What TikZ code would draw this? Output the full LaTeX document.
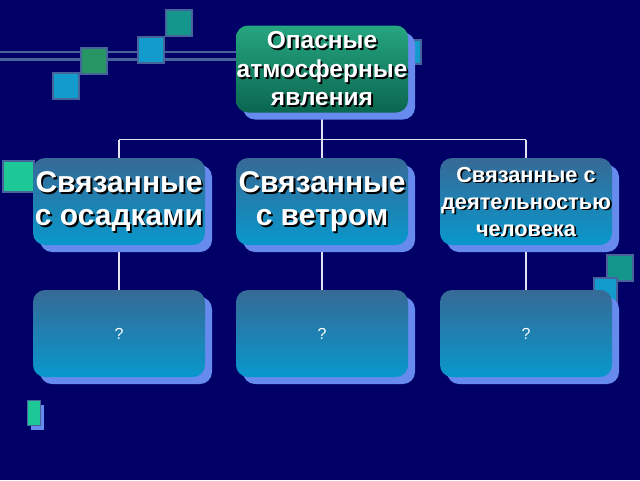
\documentclass[tikz,border=0pt]{standalone}
\usepackage{fontspec}
\setmainfont{Liberation Sans}
\usetikzlibrary{shadows}
\definecolor{navy}{RGB}{0,0,102}
\definecolor{shblue}{RGB}{102,138,238}
\definecolor{sqborder}{RGB}{70,100,155}
\definecolor{sqteal}{RGB}{20,150,140}
\definecolor{sqblue}{RGB}{20,155,205}
\definecolor{sqgreen}{RGB}{40,150,100}
\definecolor{sqmint}{RGB}{30,200,150}
\definecolor{boxtop}{RGB}{55,105,150}
\definecolor{boxbot}{RGB}{8,152,204}
\definecolor{gtop}{RGB}{38,165,128}
\definecolor{gbot}{RGB}{10,102,80}
\definecolor{linec}{RGB}{225,225,240}
\pgfdeclarelayer{bg}
\pgfdeclarelayer{background}
\pgfsetlayers{bg,background,main}
\newcommand\shtext[3]{%
  \node[font=#2,text=black,align=center,inner sep=0pt] at ([xshift=1.8pt,yshift=-1.8pt]#1.center) {#3};
  \node[font=#2,text=white,align=center,inner sep=0pt] at (#1.center) {#3};}
\begin{document}
\begin{tikzpicture}[x=1pt,y=-1pt,
  box/.style={rounded corners=12pt,minimum width=172pt,minimum height=87pt,inner sep=0pt,
    top color=boxtop,bottom color=boxbot,
    drop shadow={shadow xshift=7pt,shadow yshift=-7pt,opacity=1,fill=shblue}},
  topbox/.style={box,top color=gtop,bottom color=gbot},
  sq/.style={draw=sqborder,line width=2.5pt},
  conn/.style={draw=linec,line width=1.6pt},
  deco/.style={draw=sqborder,line width=2.8pt}]
\begin{pgfonlayer}{bg}
\fill[navy] (0,0) rectangle (640,480);
\end{pgfonlayer}
\useasboundingbox (0,0) rectangle (640,480);
% decorative lines and squares
\draw[deco] (0,52) -- (236,52);
\draw[deco] (0,59.5) -- (236,59.5);
\filldraw[sq,fill=sqteal] (166,10) rectangle (192,36);
\filldraw[sq,fill=sqblue] (138,37) rectangle (164,63);
\filldraw[sq,fill=sqgreen] (81,48) rectangle (107,74);
\filldraw[sq,fill=sqblue] (53,73) rectangle (79,99);
\filldraw[sq,fill=sqblue] (396,40) rectangle (421,64);
\filldraw[draw=sqborder,line width=1.5pt,fill=sqmint] (3,161) rectangle (34,192);
\filldraw[sq,fill=sqteal] (607,255) rectangle (633,281);
\filldraw[sq,fill=sqblue] (594,278) rectangle (617,303);
\fill[shblue] (31,405) rectangle (44,430);
\filldraw[draw=sqborder,line width=1pt,fill=sqmint] (27,400) rectangle (40,425);
% boxes
\node[topbox] (top) at (322,69) {};
\node[box] (b1) at (119,201.5) {};
\node[box] (b2) at (322,201.5) {};
\node[box] (b3) at (526,201.5) {};
\node[box] (c1) at (119,333.5) {};
\node[box] (c2) at (322,333.5) {};
\node[box] (c3) at (526,333.5) {};
\coordinate (j) at (322,139.5);
\coordinate (jl) at (119,139.5);
\coordinate (jr) at (526,139.5);
\begin{pgfonlayer}{background}
\draw[conn] (top.south) -- (j);
\draw[conn] (jl) -- (jr);
\draw[conn] (jl) -- (b1.north);
\draw[conn] (j) -- (b2.north);
\draw[conn] (jr) -- (b3.north);
\draw[conn] (b1.south) -- (c1.north);
\draw[conn] (b2.south) -- (c2.north);
\draw[conn] (b3.south) -- (c3.north);
\end{pgfonlayer}
% texts
\shtext{top}{\bfseries\fontsize{24.5}{28.5}\selectfont}{Опасные\\атмосферные\\явления}
\shtext{b1}{\bfseries\fontsize{30}{33}\selectfont}{Связанные\\с осадками}
\shtext{b2}{\bfseries\fontsize{30}{33}\selectfont}{Связанные\\с ветром}
\shtext{b3}{\bfseries\fontsize{21.8}{27}\selectfont}{Связанные с\\деятельностью\\человека}
\node[font=\fontsize{16}{18}\selectfont,text=white] at (c1.center) {?};
\node[font=\fontsize{16}{18}\selectfont,text=white] at (c2.center) {?};
\node[font=\fontsize{16}{18}\selectfont,text=white] at (c3.center) {?};
\end{tikzpicture}
\end{document}
